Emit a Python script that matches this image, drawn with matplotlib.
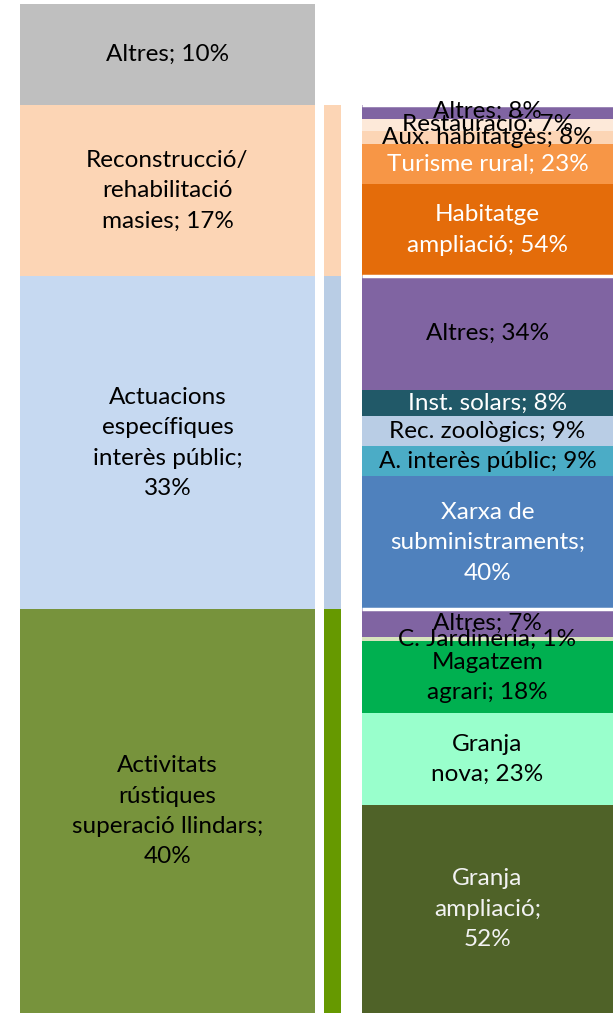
import matplotlib.pyplot as plt
import numpy as np

plt.rcParams['font.family'] = ['Lato', 'DejaVu Sans']

# main categories, bottom to top
main_labels = ["Activitats\nrústiques\nsuperació llindars;\n40%",
               "Actuacions\nespecífiques\ninterès públic;\n33%",
               "Reconstrucció/\nrehabilitació\nmasies; 17%",
               "Altres; 10%"]
main_values = [40, 33, 17, 10]
main_colors = ["#77933C", "#C6D9F1", "#FCD5B5", "#BFBFBF"]
strip_colors = ["#669900", "#B9CDE5", "#FCD5B5"]

# breakdown of each category, bottom to top
act_labels = ["Granja\nampliació;\n52%", "Granja\nnova; 23%", "Magatzem\nagrari; 18%",
              "C. Jardineria; 1%", "Altres; 7%"]
act_values = [52, 23, 18, 1, 7]
act_colors = ["#4F6228", "#99FFCC", "#00B050", "#D7E4BD", "#8064A2"]
act_text = ["#F2F2F2", "black", "black", "black", "black"]

int_labels = ["Xarxa de\nsubministraments;\n40%", "A. interès públic; 9%",
              "Rec. zoològics; 9%", "Inst. solars; 8%", "Altres; 34%"]
int_values = [40, 9, 9, 8, 34]
int_colors = ["#4F81BD", "#4BACC6", "#B9CDE5", "#215968", "#8064A2"]
int_text = ["white", "black", "black", "white", "black"]

rec_labels = ["Habitatge\nampliació; 54%", "Turisme rural; 23%", "Aux. habitatges; 8%",
              "Restauració; 7%", "Altres; 8%"]
rec_values = [54, 23, 8, 7, 8]
rec_colors = ["#E46C0A", "#F79646", "#FCD5B5", "#FDE9D9", "#8064A2"]
rec_text = ["white", "white", "black", "black", "black"]

groups = [(act_labels, act_values, act_colors, act_text),
          (int_labels, int_values, int_colors, int_text),
          (rec_labels, rec_values, rec_colors, rec_text)]

fs = 17.5
ls = 1.55

fig = plt.figure(figsize=(6.14, 10.13), dpi=100)
ax = fig.add_axes([0, 0, 1, 1])
ax.set_xlim(0, 614)
ax.set_ylim(0, 100 * 1013 / 1009)
ax.axis('off')

# left column
xl, wl = 167.5, 295
bottoms = np.concatenate([[0], np.cumsum(main_values)[:-1]])
ax.bar([xl] * 4, main_values, bottom=bottoms, width=wl, color=main_colors)
for lab, b, h in zip(main_labels, bottoms, main_values):
    ax.text(xl, b + h / 2, lab, ha='center', va='center', fontsize=fs,
            color='black', linespacing=ls)

# thin strip
xm, wm = 332.5, 17
ax.bar([xm] * 3, main_values[:3], bottom=bottoms[:3], width=wm, color=strip_colors)

# right column
xr, wr = 487.5, 251
for (labs, vals, cols, tcols), gb, gv in zip(groups, bottoms, main_values):
    vals = np.array(vals, dtype=float)
    hs = gv * vals / vals.sum()
    bs = gb + np.concatenate([[0], np.cumsum(hs)[:-1]])
    ax.bar([xr] * len(hs), hs, bottom=bs, width=wr, color=cols)
    for lab, b, h, tc in zip(labs, bs, hs, tcols):
        ax.text(xr, b + h / 2, lab, ha='center', va='center', fontsize=fs,
                color=tc, linespacing=ls)

ax.hlines(bottoms[1:], xr - wr / 2, xr + wr / 2, color='white', lw=2.5)

fig.savefig("out.png", dpi=100)
